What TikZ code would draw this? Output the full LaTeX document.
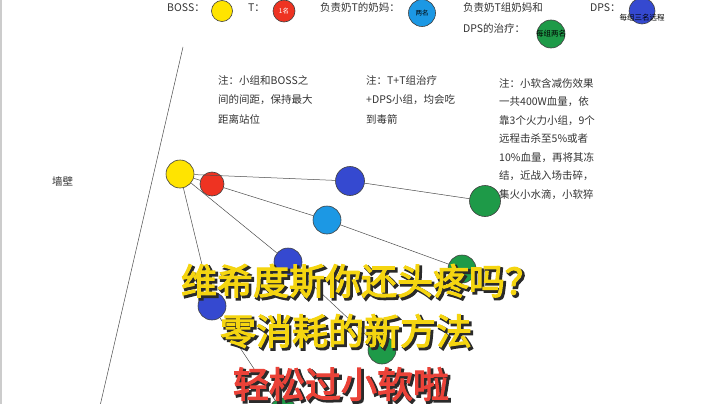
\documentclass[tikz,border=0pt]{standalone}
\usepackage{fontspec}
\setmainfont{Noto Sans CJK SC}
\newfontfamily\headfont[FakeBold=3]{Noto Sans CJK SC}
\newfontfamily\headshade[FakeBold=7]{Noto Sans CJK SC}
\definecolor{bossyellow}{HTML}{FFE400}
\definecolor{tankred}{HTML}{EE3322}
\definecolor{dpsblue}{HTML}{3549D0}
\definecolor{healblue}{HTML}{1C98E4}
\definecolor{healgreen}{HTML}{1E9A48}
\definecolor{notegray}{HTML}{333333}
\definecolor{titleyellow}{HTML}{F5D510}
\definecolor{titlered}{HTML}{EA4238}
\definecolor{shadegray}{HTML}{2A2A2A}
% title text with its dark shadow in one box
\newcommand{\shadedtitle}[2]{%
  \rlap{\hspace{2pt}\raisebox{-2pt}{\color{shadegray}\headshade #2}}%
  {\color{#1}\headfont #2}}
\begin{document}
\begin{tikzpicture}[x=1pt,y=-1pt,
  player/.style={circle, draw=black!75, line width=0.6pt, inner sep=0pt, minimum size=28pt},
  wire/.style={draw=black!70, line width=0.5pt},
  legend/.style={anchor=west, inner sep=0pt, font=\fontsize{10.5}{12}\selectfont, text=notegray},
  note/.style={anchor=north west, inner sep=0pt, align=left, text=notegray},
  tiny/.style={font=\fontsize{6.5}{7}\selectfont, inner sep=0pt},
  title/.style={inner sep=0pt, font=\fontsize{36}{36}\selectfont}]
\clip (0,0) rectangle (720,404);
\fill[white] (0,0) rectangle (720,404);
\fill[gray!40] (0,0) rectangle (2,404);

% wall
\coordinate (wtop) at (183,47);
\coordinate (wbot) at (100,406);
\draw[wire] (wtop) -- (wbot);
\node[legend] (wall) at (52,181) {墙壁};

% legend
\node[legend] (lboss) at (167,8) {BOSS：};
\node[player, fill=bossyellow, minimum size=21pt] (kboss) at (222,11){};
\node[legend] (ltank) at (248,8) {T：};
\node[player, fill=tankred, minimum size=22pt] (ktank) at (284,11){};
\node[tiny, text=white] at (ktank) {1名};
\node[legend] (lheal) at (320,8) {负责奶T的奶妈：};
\node[player, fill=healblue, minimum size=27pt] (kheal) at (422,13){};
\node[tiny, text=black] at (kheal) {两名};
\node[legend] (lgrp) at (463,8) {负责奶T组奶妈和};
\node[legend] (lgrp2) at (463,28) {DPS的治疗：};
\node[player, fill=healgreen] (kgrp) at (551,34){};
\node[tiny, text=black, font=\fontsize{7.5}{8}\selectfont] at (kgrp) {每组两名};
\node[legend] (ldps) at (590,8) {DPS：};
\node[player, fill=dpsblue, minimum size=26pt] (kdps) at (642,11){};
\node[tiny, text=black, font=\fontsize{7.5}{8}\selectfont] at (642,18) {每组三名远程};

% notes
\node[note, font=\fontsize{10.5}{19.8}\selectfont] (note1) at (218,75)
  {注：小组和BOSS之\\间的间距，保持最大\\距离站位};
\node[note, font=\fontsize{10.5}{19.8}\selectfont] (note2) at (366,75)
  {注：T+T组治疗\\+DPS小组，均会吃\\到毒箭};
\node[note, font=\fontsize{10.5}{18.5}\selectfont] (note3) at (499,78)
  {注：小软含减伤效果\\一共400W血量，依\\靠3个火力小组，9个\\远程击杀至5\%或者\\10\%血量，再将其冻\\结，近战入场击碎，\\集火小水滴，小软猝};

% players
\node[player, fill=bossyellow] (boss) at (180,174){};
\node[player, fill=tankred, minimum size=24pt] (tank) at (212,184){};
\node[player, fill=dpsblue, minimum size=29pt] (dps1) at (350,181){};
\node[player, fill=healgreen, minimum size=31pt] (heal1) at (485,201){};
\node[player, fill=healblue] (nurse) at (327,220){};
\node[player, fill=healgreen] (heal2) at (462,269){};
\node[player, fill=dpsblue] (dps2) at (288,262){};
\node[player, fill=healgreen] (heal3) at (382,350){};
\node[player, fill=dpsblue] (dps3) at (212,306){};
\node[player, fill=healgreen] (heal4) at (283,412){};

\draw[wire] (boss) -- (dps1) -- (heal1);
\draw[wire] (boss) -- (tank) -- (nurse) -- (heal2);
\draw[wire] (boss) -- (dps2) -- (heal3);
\draw[wire] (boss) -- (dps3) -- (heal4);

% title
\node[title] (t1) at (361,282) {\shadedtitle{titleyellow}{维希度斯你还头疼吗？}};
\node[title] (t2) at (346,332) {\shadedtitle{titleyellow}{零消耗的新方法}};
\node[title] (t3) at (341,385) {\shadedtitle{titlered}{轻松过小软啦}};
\end{tikzpicture}
\end{document}
